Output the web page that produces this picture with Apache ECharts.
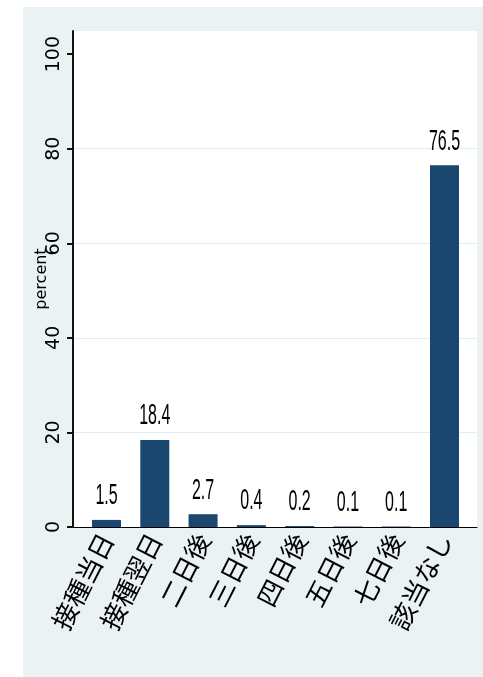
<!DOCTYPE html>
<html><head><meta charset="utf-8">
<script src="https://cdn.jsdelivr.net/npm/echarts@6/dist/echarts.min.js"></script>
<style>html,body{margin:0;padding:0;background:#fff;width:483px;height:677px;overflow:hidden}
#c{position:absolute;left:23px;top:7px;width:460px;height:670px}</style>
</head><body><div id="c"></div>
<script>
const categories = ['接種当日', '接種翌日', '二日後', '三日後', '四日後', '五日後', '七日後', '該当なし'];
const values = [1.5, 18.4, 2.7, 0.4, 0.2, 0.1, 0.1, 76.5];
const yTicks = [0, 20, 40, 60, 80, 100];
const yName = 'percent';

const barData = values.map((v, i) => [i, v]);
const chart = echarts.init(document.getElementById('c'), null, {renderer: 'canvas'});
chart.setOption({
  backgroundColor: '#eaf2f3',
  animation: false,
  grid: {left: 50, right: 6, top: 24, bottom: 150, containLabel: false, outerBoundsMode: 'none',
         show: true, backgroundColor: '#fff', borderWidth: 0, z: 0},
  xAxis: {
    type: 'value', min: -0.694, max: 7.673,
    axisLine: {show: true, onZero: false, lineStyle: {color: '#000', width: 1}},
    axisTick: {show: false},
    splitLine: {show: false},
    axisLabel: {
      customValues: categories.map((c, i) => i),
      formatter: v => categories[Math.round(v)] || '',
      rotate: 63, fontSize: 26, fontFamily: '"Noto Sans CJK JP"', color: '#000', margin: 8
    }
  },
  yAxis: {
    type: 'value', position: 'left', min: 0, max: 104.9, interval: 20,
    name: yName, nameLocation: 'middle', nameGap: 23, nameMoveOverlap: false,
    nameTextStyle: {fontFamily: '"DejaVu Sans"', fontSize: 16, color: '#000'},
    axisLine: {show: true, onZero: false, lineStyle: {color: '#111', width: 2}},
    axisTick: {show: true, length: 6, customValues: yTicks, lineStyle: {color: '#111', width: 2}},
    axisLabel: {customValues: yTicks, rotate: 90, fontFamily: '"DejaVu Sans"', fontSize: 19, color: '#000', margin: 9},
    splitLine: {show: true, showMaxLine: false, showMinLine: false, lineStyle: {color: '#e3edef', width: 1}}
  },
  series: [
    {type: 'bar', data: barData, barWidth: 29, itemStyle: {color: '#1a476f'}},
    {
      type: 'custom', data: barData, z: 5,
      renderItem: (params, api) => {
        const p = api.coord([api.value(0), api.value(1)]);
        return {
          type: 'text', x: p[0], y: p[1] - 9, scaleX: 0.8, scaleY: 1.5,
          style: {
            text: String(values[params.dataIndex]),
            fontSize: 20, fontFamily: '"Liberation Sans", sans-serif',
            fill: '#000', align: 'center', verticalAlign: 'bottom',
            textAlign: 'center', textVerticalAlign: 'bottom'
          }
        };
      }
    }
  ]
});
</script></body></html>
